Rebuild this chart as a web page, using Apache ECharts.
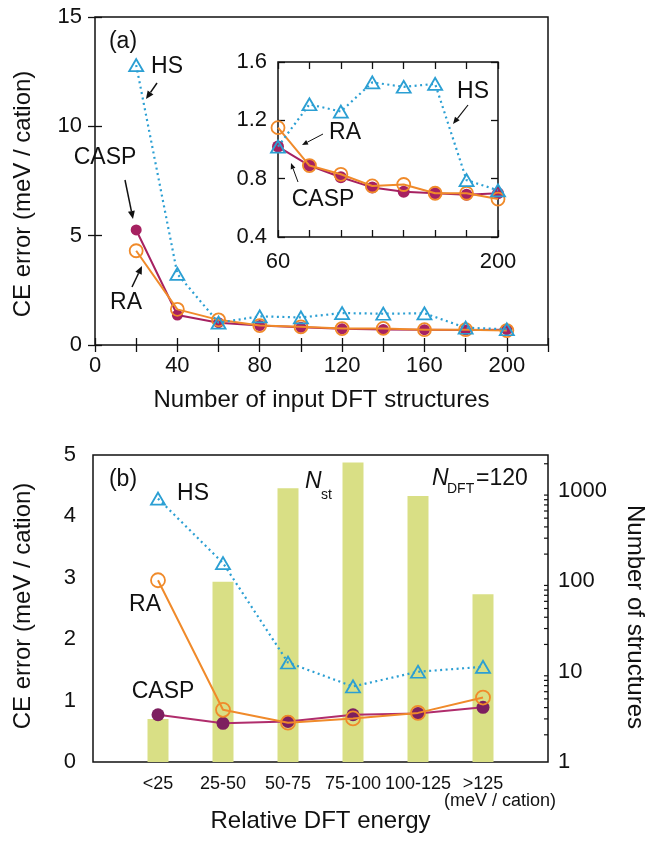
<!DOCTYPE html>
<html lang="en">
  <head>
    <meta charset="utf-8" />
    <title>CE error</title>
    <style>
      * {
        margin: 0;
        padding: 0;
      }
      #chart-container {
        width: 645px;
        height: 845px;
      }
    </style>
  </head>
  <body>
    <div id="chart-container"></div>
    <script src="https://fastly.jsdelivr.net/npm/echarts@6/dist/echarts.min.js"></script>
    <script>
      // panel (a): error vs number of input DFT structures
      const nInput = [20, 40, 60, 80, 100, 120, 140, 160, 180, 200];
      const hsA = [12.8, 3.25, 1.02, 1.31, 1.26, 1.46, 1.43, 1.45, 0.79, 0.72];
      const raA = [4.31, 1.63, 1.15, 0.89, 0.83, 0.75, 0.76, 0.7, 0.7, 0.66];
      const caspA = [5.26, 1.37, 1.02, 0.89, 0.81, 0.74, 0.71, 0.7, 0.69, 0.7];

      // panel (b): error by energy window, N_DFT = 120
      const energyBins = ["<25", "25-50", "50-75", "75-100", "100-125", ">125"];
      const nStructures = [3, 99, 1070, 2070, 880, 72];
      const hsB = [4.29, 3.24, 1.62, 1.23, 1.47, 1.55];
      const raB = [2.96, 0.85, 0.64, 0.71, 0.8, 1.05];
      const caspB = [0.77, 0.63, 0.66, 0.77, 0.79, 0.89];

      const font = "Liberation Sans, Arial, Helvetica, sans-serif";
      const ink = "#111";
      const blue = "#2b9fd3";
      const orange = "#f08a2a";
      const crimson = "#a62161";
      const plum = "#7d1f5f";
      const olive = "#d9df85";

      const W = 645;
      const bRight = W - 97;

      const pairs = (xs, ys) => xs.map((x, i) => [x, ys[i]]);
      const insetPairs = (ys) => pairs(nInput, ys).filter((p) => p[0] >= 60);

      function hsSeries(xi, yi, data) {
        return {
          type: "line", xAxisIndex: xi, yAxisIndex: yi, data: data, z: 4,
          symbol: "triangle", symbolSize: [14, 12],
          lineStyle: { color: blue, width: 2.2, type: [2, 3.5] },
          itemStyle: { color: "rgba(0,0,0,0)", borderColor: blue, borderWidth: 1.8 },
        };
      }
      function raSeries(xi, yi, data, size) {
        return {
          type: "line", xAxisIndex: xi, yAxisIndex: yi, data: data, z: 3,
          symbol: "circle", symbolSize: size,
          lineStyle: { color: orange, width: 2 },
          itemStyle: { color: "rgba(0,0,0,0)", borderColor: orange, borderWidth: 1.8 },
        };
      }
      function caspSeries(xi, yi, data, dot, line, size) {
        return {
          type: "line", xAxisIndex: xi, yAxisIndex: yi, data: data, z: 2,
          symbol: "circle", symbolSize: size,
          lineStyle: { color: line, width: 2 },
          itemStyle: { color: dot },
        };
      }

      const tick = { inside: true, length: 7, lineStyle: { color: ink, width: 1.3 } };
      const lbl = { color: ink, fontSize: 22, fontFamily: font };
      const title = { color: ink, fontSize: 24, fontFamily: font };

      function valAxis(o) {
        return Object.assign(
          {
            type: "value",
            axisLine: { show: false },
            splitLine: { show: false },
            axisTick: tick,
          },
          o
        );
      }

      function text(str, x, y, size, extra) {
        return {
          type: "text", x: x, y: y, silent: true,
          style: Object.assign(
            { text: str, fontSize: size || 23, fontFamily: font, fill: ink, align: "center", verticalAlign: "middle" },
            extra || {}
          ),
        };
      }

      function arrow(x1, y1, x2, y2, w, hl, hw) {
        const dx = x2 - x1, dy = y2 - y1;
        const len = Math.hypot(dx, dy);
        const ux = dx / len, uy = dy / len;
        const bx = x2 - ux * hl, by = y2 - uy * hl;
        return [
          { type: "line", silent: true, shape: { x1: x1, y1: y1, x2: bx, y2: by }, style: { stroke: ink, lineWidth: w } },
          {
            type: "polygon", silent: true,
            shape: { points: [[x2, y2], [bx - uy * hw, by + ux * hw], [bx + uy * hw, by - ux * hw]] },
            style: { fill: ink },
          },
        ];
      }

      const graphics = [
        text("(a)", 123, 42),
        text("HS", 167, 67),
        ...arrow(157, 83, 146, 99, 1.5, 8, 3.5),
        text("CASP", 105, 158),
        ...arrow(125, 180, 133, 219, 1.5, 8, 3.5),
        text("RA", 126, 303),
        ...arrow(132, 287, 142, 266, 1.5, 8, 3.5),
        text("HS", 473, 92),
        ...arrow(468, 105, 453, 124, 1.2, 7, 3),
        text("RA", 345, 133),
        ...arrow(323, 134, 302, 145, 1, 6, 2.5),
        text("CASP", 323, 200),
        ...arrow(298, 182, 291, 163, 1, 6, 2.5),
        text("(b)", 123, 480),
        text("HS", 193, 494),
        text("RA", 145, 605),
        text("CASP", 163, 692),
        text("N", 305, 482, 23, { align: "left", fontStyle: "italic" }),
        text("st", 321, 495, 14, { align: "left" }),
        text("N", 432, 479, 23, { align: "left", fontStyle: "italic" }),
        text("DFT", 447, 489, 14, { align: "left" }),
        text("=120", 476, 479, 23, { align: "left" }),
        text("(meV / cation)", 500, 801, 18),
        text("CE error (meV / cation)", 23, 194, 24),
        text("CE error (meV / cation)", 23, 606, 24),
        text("Number of structures", 635, 617, 24),
      ];
      graphics[graphics.length - 3].rotation = Math.PI / 2;
      graphics[graphics.length - 2].rotation = Math.PI / 2;
      graphics[graphics.length - 1].rotation = -Math.PI / 2;

      const dom = document.getElementById("chart-container");
      const myChart = echarts.init(dom, null, { renderer: "canvas" });

      const option = {
        animation: false,
        backgroundColor: "#fff",
        grid: [
          { left: 95, top: 17, right: 97, height: 328, show: true, borderColor: ink, borderWidth: 1.5 },
          { left: 278, top: 62, width: 220, height: 175, show: true, backgroundColor: "#fff", borderColor: ink, borderWidth: 1.5 },
          { left: 93, top: 455, right: 97, height: 307, show: true, borderColor: ink, borderWidth: 1.5 },
        ],
        xAxis: [
          valAxis({
            gridIndex: 0, min: 0, max: 220, interval: 20,
            axisLabel: Object.assign({}, lbl, {
              margin: 10,
              formatter: (v) => (v % 40 === 0 && v <= 200 ? String(v) : ""),
            }),
            name: "Number of input DFT structures", nameLocation: "middle", nameGap: 43, nameTextStyle: title,
          }),
          valAxis({ gridIndex: 0, position: "top", min: 0, max: 220, interval: 20, axisLabel: { show: false } }),
          valAxis({
            gridIndex: 1, min: 60, max: 200, interval: 20,
            axisLabel: Object.assign({}, lbl, {
              margin: 14,
              formatter: (v) => (v === 60 || v === 200 ? String(v) : ""),
            }),
          }),
          valAxis({ gridIndex: 1, position: "top", min: 60, max: 200, interval: 20, axisLabel: { show: false } }),
          {
            gridIndex: 2, type: "category", data: ["", ...energyBins, ""], boundaryGap: false,
            axisLine: { show: false }, axisTick: { show: false },
            axisLabel: { color: ink, fontSize: 18, fontFamily: font, margin: 13, interval: 0 },
            name: "Relative DFT energy", nameLocation: "middle", nameGap: 47, nameTextStyle: title,
          },
        ],
        yAxis: [
          valAxis({ gridIndex: 0, min: 0, max: 15, interval: 5, axisLabel: Object.assign({}, lbl, { margin: 13 }) }),
          valAxis({ gridIndex: 0, position: "right", min: 0, max: 15, interval: 5, axisLabel: { show: false } }),
          valAxis({
            gridIndex: 1, min: 0.4, max: 1.6, interval: 0.4,
            axisLabel: Object.assign({}, lbl, { margin: 11, formatter: (v) => v.toFixed(1) }),
          }),
          valAxis({ gridIndex: 1, position: "right", min: 0.4, max: 1.6, interval: 0.4, axisLabel: { show: false } }),
          valAxis({ gridIndex: 2, min: 0, max: 5, interval: 1, axisLabel: Object.assign({}, lbl, { margin: 17 }) }),
          {
            gridIndex: 2, type: "log", logBase: 10, min: 1, max: 2500, position: "right",
            axisLine: { show: false }, splitLine: { show: false },
            axisTick: { inside: true, length: 8, lineStyle: { color: ink, width: 1.3 } },
            axisLabel: Object.assign({}, lbl, {
              margin: 10,
              formatter: (v) => {
                const r = Math.round(v);
                return [1, 10, 100, 1000].indexOf(r) >= 0 ? String(r) : "";
              },
            }),
          },
        ],
        series: [
          caspSeries(0, 0, pairs(nInput, caspA), crimson, crimson, 11),
          raSeries(0, 0, pairs(nInput, raA), 13),
          hsSeries(0, 0, pairs(nInput, hsA)),
          caspSeries(2, 2, insetPairs(caspA), crimson, crimson, 12),
          raSeries(2, 2, insetPairs(raA), 13),
          hsSeries(2, 2, insetPairs(hsA)),
          {
            type: "bar", xAxisIndex: 4, yAxisIndex: 5, z: 1,
            data: pairs(energyBins, nStructures),
            barWidth: 21,
            itemStyle: { color: olive },
          },
          caspSeries(4, 4, pairs(energyBins, caspB), plum, "#b02d6c", 13),
          raSeries(4, 4, pairs(energyBins, raB), 14),
          hsSeries(4, 4, pairs(energyBins, hsB)),
        ],
        graphic: graphics,
      };

      myChart.setOption(option);

      // minor ticks of the log axis (2..9 in each decade)
      const minor = [];
      for (let d = 1; d <= 1000; d *= 10) {
        for (let k = 2; k <= 9; k++) {
          const v = k * d;
          if (v > 2500) break;
          const py = myChart.convertToPixel({ yAxisIndex: 5 }, v);
          minor.push({
            type: "line", silent: true,
            shape: { x1: bRight - 4, y1: py, x2: bRight, y2: py },
            style: { stroke: ink, lineWidth: 1.2 },
          });
        }
      }
      myChart.setOption({ graphic: graphics.concat(minor) });

      window.addEventListener("resize", myChart.resize);
    </script>
  </body>
</html>
